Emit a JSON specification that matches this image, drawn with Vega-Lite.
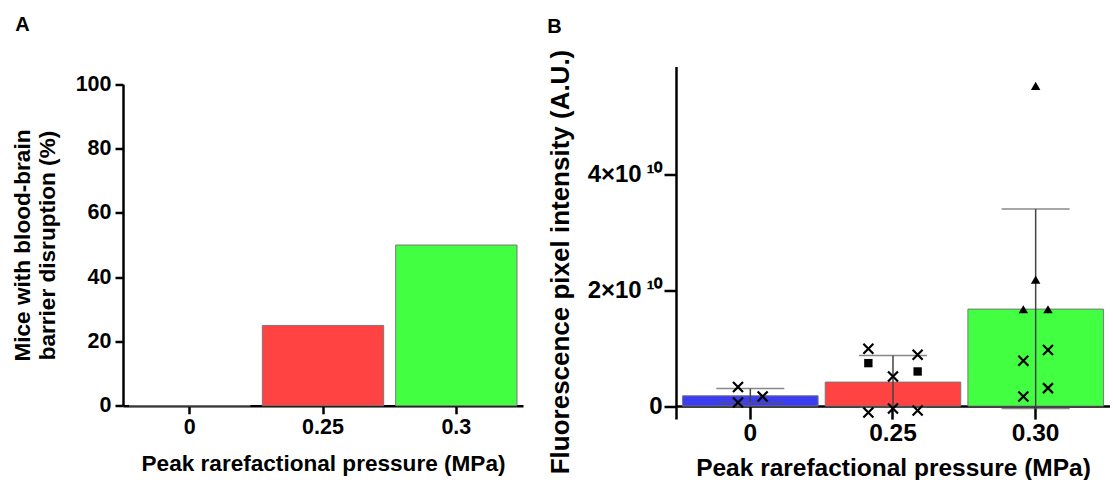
{
  "$schema": "https://vega.github.io/schema/vega-lite/v6.json",
  "padding": {"left": 11, "top": 15.5, "right": 0, "bottom": 0},
  "spacing": 24,
  "resolve": {"scale": {"color": "independent", "xOffset": "independent", "shape": "independent", "size": "independent"}},
  "config": {
    "font": "Liberation Sans",
    "view": {"stroke": null},
    "axis": {
      "domainColor": "black", "domainWidth": 2.5, "tickColor": "black", "tickWidth": 2.5,
      "labelFont": "Liberation Sans", "labelFontWeight": "bold", "labelColor": "black",
      "titleFont": "Liberation Sans", "titleFontWeight": "bold", "titleColor": "black",
      "grid": false, "zindex": 1
    },
    "title": {"font": "Liberation Sans", "fontWeight": "bold", "color": "black", "fontSize": 20}
  },
  "datasets": {
    "pctA": [
      {"pressure": "0", "pct": 0},
      {"pressure": "0.25", "pct": 25},
      {"pressure": "0.3", "pct": 50}
    ],
    "barsB": [
      {"pressure": "0", "mean": 1.78e9, "lo": 0.6e9, "hi": 3.03e9},
      {"pressure": "0.25", "mean": 4.14e9, "lo": -0.2e9, "hi": 8.72e9},
      {"pressure": "0.30", "mean": 1.672e10, "lo": -0.4e9, "hi": 3.40e10}
    ],
    "pointsB": [
      {"pressure": "0", "col": "L1", "marker": "x", "value": 3.28e9},
      {"pressure": "0", "col": "L1", "marker": "x", "value": 0.62e9},
      {"pressure": "0", "col": "R1", "marker": "x", "value": 1.66e9},
      {"pressure": "0.25", "col": "L2", "marker": "x", "value": 9.88e9},
      {"pressure": "0.25", "col": "L2", "marker": "square", "value": 7.41e9},
      {"pressure": "0.25", "col": "C", "marker": "x", "value": 5.1e9},
      {"pressure": "0.25", "col": "R2", "marker": "x", "value": 8.84e9},
      {"pressure": "0.25", "col": "R2", "marker": "square", "value": 5.97e9},
      {"pressure": "0.25", "col": "L2", "marker": "x", "value": -1.1e9},
      {"pressure": "0.25", "col": "C", "marker": "x", "value": -0.4e9},
      {"pressure": "0.25", "col": "R2", "marker": "x", "value": -0.76e9},
      {"pressure": "0.30", "col": "C", "marker": "triangle", "value": 5.52e10},
      {"pressure": "0.30", "col": "C", "marker": "triangle", "value": 2.18e10},
      {"pressure": "0.30", "col": "L1", "marker": "triangle", "value": 1.67e10},
      {"pressure": "0.30", "col": "R1", "marker": "triangle", "value": 1.67e10},
      {"pressure": "0.30", "col": "L1", "marker": "x", "value": 7.81e9},
      {"pressure": "0.30", "col": "R1", "marker": "x", "value": 9.66e9},
      {"pressure": "0.30", "col": "L1", "marker": "x", "value": 1.66e9},
      {"pressure": "0.30", "col": "R1", "marker": "x", "value": 3.1e9}
    ]
  },
  "hconcat": [
    {
      "width": 400,
      "height": 352.6,
      "title": {"text": "A", "anchor": "start", "frame": "bounds", "offset": 31, "dx": 4},
      "data": {"name": "pctA"},
      "mark": {"type": "bar", "stroke": "#777777", "strokeWidth": 1},
      "encoding": {
        "x": {
          "field": "pressure", "type": "ordinal", "sort": null,
          "scale": {"paddingInner": 0.09, "paddingOuter": 0.045},
          "axis": {
            "title": "Peak rarefactional pressure (MPa)", "labelAngle": 0, "offset": -13.3,
            "tickSize": 8, "labelFontSize": 21.5, "labelPadding": 3, "titleFontSize": 22.6, "titlePadding": 14
          }
        },
        "y": {
          "field": "pct", "type": "quantitative",
          "scale": {"domain": [0, 100], "range": [339.3, 17.8], "nice": false},
          "axis": {
            "values": [0, 20, 40, 60, 80, 100],
            "title": ["Mice with blood-brain", "barrier disruption (%)"],
            "tickSize": 8, "labelFontSize": 21.5, "labelPadding": 4,
            "titleFontSize": 22.6, "titleLineHeight": 25, "titlePadding": 16
          }
        },
        "color": {
          "field": "pressure", "type": "nominal",
          "scale": {"domain": ["0", "0.25", "0.3"], "range": ["#3c3cf2", "#ff4242", "#42ff42"]},
          "legend": null
        }
      }
    },
    {
      "width": 434,
      "height": 352.6,
      "title": {"text": "B", "anchor": "start", "frame": "bounds", "offset": 12},
      "resolve": {"scale": {"xOffset": "independent"}},
      "encoding": {
        "x": {
          "field": "pressure", "type": "ordinal", "sort": null,
          "scale": {"domain": ["0", "0.25", "0.30"], "paddingInner": 0.05, "paddingOuter": 0.046},
          "axis": {
            "title": "Peak rarefactional pressure (MPa)", "labelAngle": 0, "offset": -13,
            "tickSize": 13, "labelFontSize": 24.5, "labelPadding": 2, "titleFontSize": 24.5, "titlePadding": 12
          }
        }
      },
      "layer": [
        {
          "data": {"name": "barsB"},
          "mark": {"type": "bar", "stroke": "#777777", "strokeWidth": 1},
          "encoding": {
            "y": {
              "field": "mean", "type": "quantitative",
              "scale": {"domain": [-2.24e9, 5.855e10], "nice": false, "zero": false},
              "axis": {
                "values": [0, 2e10, 4e10],
                "labelExpr": "datum.value == 0 ? '0' : format(datum.value / 1e10, 'd') + '×10\u2009¹⁰'",
                "title": "Fluorescence pixel intensity (A.U.)",
                "tickSize": 12, "labelFontSize": 24, "labelPadding": 2,
                "titleFontSize": 26, "titlePadding": 14, "titleY": 195
              }
            },
            "color": {
              "field": "pressure", "type": "nominal",
              "scale": {"domain": ["0", "0.25", "0.30"], "range": ["#3c3cf2", "#ff4242", "#42ff42"]},
              "legend": null
            }
          }
        },
        {
          "data": {"name": "barsB"},
          "mark": {"type": "rule", "color": "#444444", "strokeWidth": 1.5},
          "encoding": {
            "y": {"field": "lo", "type": "quantitative"},
            "y2": {"field": "hi"}
          }
        },
        {
          "data": {"name": "barsB"},
          "mark": {"type": "tick", "color": "#555555", "size": 68, "thickness": 1.5},
          "encoding": {"y": {"field": "hi", "type": "quantitative"}}
        },
        {
          "data": {"name": "barsB"},
          "mark": {"type": "tick", "color": "#555555", "size": 68, "thickness": 1.5},
          "encoding": {"y": {"field": "lo", "type": "quantitative"}}
        },
        {
          "layer": [
            {
              "transform": [{"filter": "datum.marker == 'x'"}],
              "mark": {"type": "point", "shape": "M-1,-1L1,1M-1,1L1,-1", "filled": false, "color": "black", "strokeWidth": 2.2, "size": 100, "opacity": 1},
              "encoding": {
                "y": {"field": "value", "type": "quantitative"}
              }
            },
            {
              "transform": [{"filter": "datum.marker != 'x'"}],
              "mark": {"type": "point", "filled": true, "color": "black", "opacity": 1},
              "encoding": {
                "y": {"field": "value", "type": "quantitative"},
                "shape": {
                  "field": "marker", "type": "nominal",
                  "scale": {"domain": ["square", "triangle"], "range": ["square", "triangle-up"]},
                  "legend": null
                },
                "size": {
                  "field": "marker", "type": "nominal",
                  "scale": {"domain": ["square", "triangle"], "range": [70, 90]},
                  "legend": null
                }
              }
            }
          ],
          "data": {"name": "pointsB"},
          "encoding": {
            "xOffset": {
              "field": "col", "type": "nominal",
              "scale": {"type": "point", "domain": ["s1", "s2", "s3", "L2", "L1", "C", "R1", "R2", "s9", "s10", "s11"]}
            }
          }
        }
      ]
    }
  ]
}
